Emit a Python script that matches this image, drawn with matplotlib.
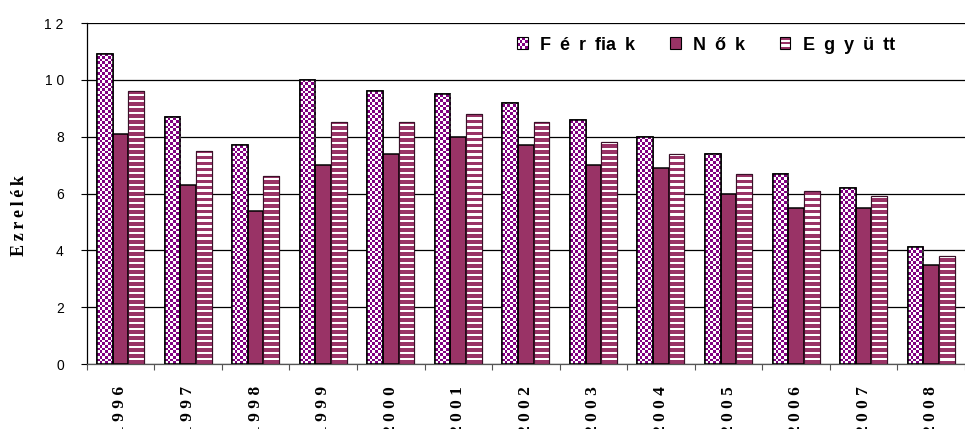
import numpy as np
import matplotlib.pyplot as plt
from matplotlib.colors import ListedColormap
from matplotlib.patches import Rectangle
from matplotlib.legend_handler import HandlerBase

years = ['1996', '1997', '1998', '1999', '2000', '2001', '2002',
         '2003', '2004', '2005', '2006', '2007', '2008']
ferfiak = [10.9, 8.7, 7.7, 10.0, 9.6, 9.5, 9.2, 8.6, 8.0, 7.4, 6.7, 6.2, 4.1]
nok = [8.1, 6.3, 5.4, 7.0, 7.4, 8.0, 7.7, 7.0, 6.9, 6.0, 5.5, 5.5, 3.5]
egyutt = [9.6, 7.5, 6.6, 8.5, 8.5, 8.8, 8.5, 7.8, 7.4, 6.7, 6.1, 5.9, 3.8]
series_names = ['F\u2002é\u2002r\u2002fia\u2002k', 'N\u2002ő\u2002k',
                'E\u2002g\u2002y\u2002ü\u2002tt']

PURPLE = '#800080'
PLUM = '#993366'

W, H, DPI = 965, 429, 100
fig = plt.figure(figsize=(W / DPI, H / DPI), dpi=DPI)
ax = fig.add_axes([86.7 / W, 1 - 364 / H, 1 - 86.7 / W, (364 - 23) / H])

x = np.arange(len(years))
bw = 0.232
xmin, xmax = -0.5, 12.34
ax.set_xlim(xmin, xmax)
ax.set_ylim(0, 12)

# pixel -> data unit sizes for pattern cells
px_x = (xmax - xmin) / (W - 86.7)
px_y = 12 / (364 - 23)

def pattern_fill(bars, kind):
    for b in bars:
        x0 = b.get_x()
        w = b.get_width()
        h = b.get_height()
        if kind == 'checker':
            cx, cy = 2.7 * px_x, 2.7 * px_y
            nc = int(np.ceil(w / cx))
            nr = int(np.ceil(h / cy))
            arr = (np.add.outer(np.arange(nr), np.arange(nc)) % 2)
            ext = (x0, x0 + nc * cx, 0, nr * cy)
            cmap = ListedColormap(['white', PURPLE])
        else:
            # 6px period: ~3.5px plum, ~2.5px white (half pixel rows)
            cy = 0.5 * px_y
            nr = int(np.ceil(h / cy))
            rows = (np.arange(nr) % 12) < 7
            arr = rows[:, None].astype(float) * np.ones((1, 2))
            ext = (x0, x0 + w, 0, nr * cy)
            cmap = ListedColormap(['white', PLUM])
        im = ax.imshow(arr, cmap=cmap, extent=ext, origin='lower',
                       interpolation='nearest', aspect='auto', zorder=2)
        im.set_clip_path(b)

b1 = ax.bar(x - bw, ferfiak, bw, facecolor='white', edgecolor='black',
            linewidth=1.1, zorder=2)
b2 = ax.bar(x, nok, bw, facecolor=PLUM, edgecolor='black',
            linewidth=1.1, zorder=3)
b3 = ax.bar(x + bw, egyutt, bw, facecolor='white', edgecolor='black',
            linewidth=0.8, zorder=2)
pattern_fill(b1, 'checker')
pattern_fill(b3, 'stripes')
# outlines on top of the patterns
ax.bar(x - bw, ferfiak, bw, facecolor='none', edgecolor='black', linewidth=1.1, zorder=4)
ax.bar(x + bw, egyutt, bw, facecolor='none', edgecolor='#3a1028', linewidth=0.8, zorder=4)
ax.set_xlim(xmin, xmax)
ax.set_ylim(0, 12)

# axes styling
ax.set_yticks(np.arange(0, 13, 2))
ax.set_yticklabels([' '.join(str(v)) for v in range(0, 13, 2)],
                   fontsize=10, family='Liberation Sans')
ax.tick_params(axis='y', direction='out', length=4.5, width=0.8, pad=12)
ax.yaxis.grid(True, color='black', linewidth=0.9)
ax.set_axisbelow(True)

ax.set_xticks(x)
ax.set_xticklabels([' '.join(y) for y in years], rotation=90, va='top',
                   ha='center', fontsize=12.5, fontweight='bold',
                   family='Liberation Serif')
ax.tick_params(axis='x', length=0, pad=16)
ax.set_xticks(np.arange(-0.5, 12.6, 1), minor=True)
ax.tick_params(axis='x', which='minor', direction='out', length=4.5,
               width=0.8, color='#555555')

for s in ['top', 'right']:
    ax.spines[s].set_visible(False)
ax.spines['left'].set_linewidth(0.9)
ax.spines['bottom'].set_linewidth(0.9)
ax.spines['bottom'].set_color('#555555')

fig.text(19 / W, 1 - 216 / H, 'E\u2009z\u2009r\u2009e\u2009l\u2009é\u2009k', rotation=90,
         ha='center', va='center', fontsize=13, fontweight='bold',
         family=['Liberation Serif', 'DejaVu Serif'])


class HandlerPattern(HandlerBase):
    def __init__(self, kind):
        super().__init__()
        self.kind = kind

    def create_artists(self, legend, orig_handle, xdescent, ydescent,
                       width, height, fontsize, trans):
        artists = []
        artists.append(Rectangle((-xdescent, -ydescent), width, height,
                                 facecolor='white', edgecolor='none',
                                 transform=trans))
        if self.kind == 'checker':
            n = 4
            cw, ch = width / n, height / n
            for i in range(n):
                for j in range(n):
                    if (i + j) % 2:
                        artists.append(Rectangle((-xdescent + i * cw, -ydescent + j * ch),
                                                 cw, ch, facecolor=PURPLE,
                                                 edgecolor='none', transform=trans))
        else:
            n = 5
            ch = height / n
            for j in range(0, n, 2):
                artists.append(Rectangle((-xdescent, -ydescent + j * ch), width, ch,
                                         facecolor=PLUM, edgecolor='none',
                                         transform=trans))
        artists.append(Rectangle((-xdescent, -ydescent), width, height,
                                 facecolor='none', edgecolor='black',
                                 linewidth=0.8, transform=trans))
        return artists


h_f = Rectangle((0, 0), 1, 1)
h_e = Rectangle((0, 0), 1, 1, facecolor='white')
h_n = Rectangle((0, 0), 1, 1, facecolor=PLUM, edgecolor='black', linewidth=0.8)
leg = ax.legend([h_f, h_n, h_e], series_names, ncol=3,
                handler_map={h_f: HandlerPattern('checker'),
                             h_e: HandlerPattern('stripes')},
                loc='center left', bbox_to_anchor=(517 / W, 1 - 45 / H),
                bbox_transform=fig.transFigure, frameon=False,
                prop={'family': ['Liberation Sans', 'DejaVu Sans'],
                      'weight': 'bold', 'size': 13},
                handlelength=0.6, handleheight=0.6, handletextpad=0.7,
                columnspacing=1.9, borderpad=0, borderaxespad=0)
leg.set_zorder(5)

fig.savefig('out.png', dpi=DPI)
